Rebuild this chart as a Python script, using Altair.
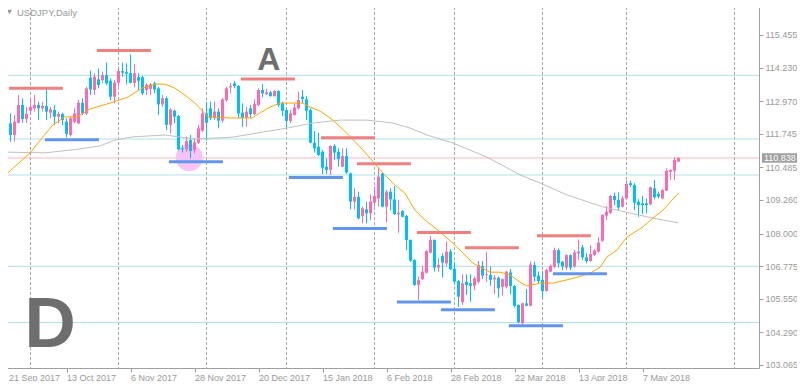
import altair as alt
import pandas as pd

# ---------------- data ----------------
opens = [
112.14, 112.45, 112.14, 111.70, 112.16, 112.83, 112.30, 112.61, 112.70, 112.83,
112.70, 112.79, 112.54, 112.64, 112.39, 112.49, 112.20, 111.70, 112.20, 112.14,
112.91, 112.51, 113.85, 113.39, 113.79, 113.76, 113.95, 113.74, 113.14, 113.66,
114.10, 114.06, 114.02, 113.66, 113.87, 113.87, 113.39, 113.43, 113.64, 113.45,
112.85, 113.08, 112.08, 112.61, 112.41, 111.20, 111.16, 111.51, 111.14, 111.41,
111.86, 112.51, 112.70, 112.33, 112.58, 112.24, 113.01, 113.49, 113.64, 113.54,
112.54, 112.35, 112.70, 112.49, 112.83, 113.39, 113.23, 113.30, 113.16, 113.35,
112.89, 112.64, 112.23, 112.45, 112.70, 113.14, 113.04, 112.64, 111.41, 111.26,
111.07, 110.51, 110.39, 111.29, 111.07, 110.51, 110.91, 110.26, 109.20, 109.38,
108.66, 108.91, 108.76, 109.16, 109.32, 110.26, 109.01, 109.57, 109.28, 108.72,
108.85, 108.66, 107.76, 107.01, 106.07, 106.29, 106.53, 107.28, 107.76, 106.72,
107.16, 106.88, 107.32, 106.68, 106.22, 105.42, 106.19, 106.13, 106.04, 106.19,
106.78, 106.44, 106.44, 106.28, 106.34, 106.00, 106.00, 106.54, 106.03, 105.32,
104.63, 105.38, 105.29, 106.82, 106.42, 106.26, 105.84, 106.57, 106.76, 107.38,
106.94, 106.72, 107.19, 106.76, 107.26, 107.48, 107.11, 106.97, 107.20, 107.32,
107.73, 108.67, 108.78, 109.41, 109.26, 109.01, 109.32, 109.89, 109.82, 109.20,
109.13, 109.13, 109.10, 109.70, 109.49, 109.32, 109.61, 110.32, 110.36, 110.70,
]
highs = [
112.70, 112.58, 112.51, 112.45, 113.20, 113.08, 112.76, 113.08, 113.20, 112.95,
112.95, 113.45, 112.76, 112.83, 112.58, 112.54, 112.33, 112.39, 112.70, 113.01,
113.08, 113.51, 114.12, 114.02, 114.20, 114.08, 114.42, 113.83, 113.76, 114.27,
114.42, 114.39, 114.73, 114.37, 114.02, 113.92, 113.64, 113.64, 113.70, 113.51,
113.20, 113.14, 112.70, 112.66, 112.45, 111.32, 111.64, 111.70, 111.57, 112.08,
112.70, 112.95, 112.95, 112.95, 112.70, 113.08, 113.51, 113.66, 113.73, 113.58,
112.89, 112.76, 112.83, 113.04, 113.45, 113.61, 113.43, 113.36, 113.38, 113.38,
112.95, 112.66, 112.64, 112.89, 113.33, 113.39, 113.16, 112.70, 111.85, 111.79,
111.14, 110.82, 111.31, 111.36, 111.20, 111.20, 111.20, 110.29, 109.70, 109.57,
109.01, 109.20, 109.47, 109.76, 110.45, 110.29, 109.64, 109.70, 109.78, 109.26,
108.88, 108.70, 107.78, 107.03, 106.38, 106.78, 107.38, 107.91, 107.78, 107.07,
107.26, 107.70, 107.41, 106.94, 106.25, 106.47, 106.47, 106.47, 106.38, 106.97,
106.97, 107.32, 106.76, 106.44, 106.38, 106.31, 106.59, 106.67, 106.07, 105.34,
105.40, 105.92, 106.94, 106.94, 106.57, 106.59, 106.67, 106.84, 107.47, 107.44,
106.97, 107.22, 107.22, 107.38, 107.78, 107.57, 107.26, 107.57, 107.41, 107.86,
108.72, 109.03, 109.45, 109.54, 109.54, 109.41, 109.99, 109.99, 109.89, 109.29,
109.41, 109.32, 109.76, 110.01, 109.57, 109.66, 110.45, 110.41, 110.86, 110.86,
]
lows = [
111.95, 111.76, 111.45, 111.45, 112.14, 112.16, 112.16, 112.45, 112.58, 112.26,
112.58, 112.26, 112.33, 112.08, 112.14, 112.08, 111.61, 111.64, 112.14, 112.11,
112.45, 112.45, 113.20, 113.20, 113.45, 113.64, 113.58, 113.01, 112.89, 113.51,
113.89, 113.60, 113.64, 113.49, 113.39, 113.20, 113.20, 113.20, 113.27, 112.45,
112.76, 111.89, 111.76, 112.14, 111.11, 111.04, 111.07, 110.82, 111.01, 111.36,
111.82, 111.49, 112.26, 112.26, 111.95, 112.16, 112.95, 113.27, 113.45, 112.33,
112.01, 112.01, 112.33, 112.45, 112.79, 113.12, 113.20, 113.14, 113.14, 112.76,
112.41, 111.99, 112.14, 112.43, 112.66, 112.89, 112.26, 111.39, 111.04, 110.91,
110.24, 110.24, 110.19, 110.76, 110.51, 110.49, 110.24, 108.91, 108.91, 108.53,
108.38, 108.38, 108.51, 109.01, 109.01, 108.98, 108.41, 108.88, 108.70, 108.03,
108.61, 107.38, 106.94, 106.03, 105.50, 106.25, 106.50, 107.26, 106.57, 106.57,
106.35, 106.76, 106.63, 106.15, 105.25, 105.32, 105.69, 105.44, 105.88, 106.13,
106.29, 106.19, 106.04, 105.73, 105.59, 105.67, 105.94, 105.72, 105.22, 104.63,
104.59, 105.27, 105.27, 106.19, 106.13, 105.59, 105.82, 106.54, 106.69, 106.72,
106.63, 106.63, 106.63, 106.72, 107.01, 107.01, 106.88, 106.94, 107.16, 107.28,
107.69, 108.51, 108.73, 109.07, 108.88, 108.98, 109.29, 109.74, 108.88, 108.63,
108.73, 108.76, 109.07, 109.29, 109.32, 109.29, 109.60, 110.01, 110.01, 110.70,
]
closes = [
112.45, 111.95, 111.70, 112.20, 112.83, 112.30, 112.49, 112.76, 112.83, 112.70,
112.79, 112.58, 112.66, 112.39, 112.49, 112.26, 111.74, 112.33, 112.51, 112.91,
112.51, 113.45, 113.41, 113.89, 113.58, 113.95, 113.64, 113.14, 113.67, 114.10,
114.04, 114.00, 113.66, 114.02, 113.74, 113.27, 113.58, 113.60, 113.41, 112.85,
113.08, 112.08, 112.66, 112.39, 111.16, 111.16, 111.47, 111.10, 111.42, 111.95,
112.51, 112.16, 112.33, 112.58, 112.24, 113.04, 113.45, 113.54, 113.54, 112.51,
112.35, 112.58, 112.48, 112.86, 113.39, 113.26, 113.30, 113.16, 113.35, 112.83,
112.61, 112.23, 112.51, 112.73, 113.01, 113.05, 112.61, 111.41, 111.20, 110.95,
110.47, 110.39, 111.29, 111.04, 110.79, 110.91, 110.29, 109.20, 109.38, 108.57,
108.95, 108.76, 109.20, 109.41, 110.14, 109.01, 109.57, 109.28, 108.73, 108.78,
108.63, 107.76, 106.98, 106.07, 106.25, 106.57, 107.34, 107.76, 106.72, 106.82,
106.91, 107.32, 106.66, 106.19, 105.63, 106.13, 106.07, 106.04, 106.32, 106.82,
106.42, 106.47, 106.26, 106.34, 105.94, 106.29, 106.57, 106.03, 105.29, 104.67,
105.38, 105.29, 106.84, 106.38, 106.22, 105.84, 106.63, 106.79, 107.38, 106.88,
106.76, 107.19, 106.72, 107.29, 107.32, 107.11, 106.97, 107.23, 107.36, 107.66,
108.70, 108.82, 109.41, 109.26, 108.98, 109.32, 109.86, 109.82, 109.16, 109.07,
109.07, 109.07, 109.74, 109.36, 109.39, 109.64, 110.35, 110.39, 110.76, 110.838,
]
bars = list(range(len(opens)))

tick_bars = [0, 16, 32, 48, 64, 80, 96, 112, 128, 144, 160]
tick_labels = ["21 Sep 2017", "13 Oct 2017", "6 Nov 2017", "28 Nov 2017", "20 Dec 2017",
               "15 Jan 2018", "6 Feb 2018", "28 Feb 2018", "22 Mar 2018", "13 Apr 2018", "7 May 2018"]
month_grid_bars = [7, 29, 51, 71, 93, 113, 135, 156, 183]
price_ticks = [103.065, 104.290, 105.550, 106.775, 108.000, 109.260,
               110.485, 111.745, 112.970, 114.230, 115.455]

fast_ma_bars = [-0.1, 6.9, 10.1, 12.6, 15.6, 18.6, 21.9, 26.9, 31.4, 34.9, 38.1, 40.6, 43.1, 45.6,
                48.1, 51.4, 56.9, 62.4, 64.4, 66.9, 69.4, 75.1, 76.9, 79.4, 82.6, 86.1, 89.4, 91.9,
                94.9, 98.1, 100.6, 103.1, 105.6, 109.4, 112.6, 115.1, 117.6, 121.9, 124.4, 126.9,
                129.4, 131.1, 134.4, 137.6, 141.1, 143.9, 147.4, 149.4, 151.1, 153.6, 156.1, 160.1,
                162.6, 165.1, 169.0]
fast_ma_vals = [110.09, 111.03, 111.63, 112.08, 112.38, 112.38, 112.68, 112.90, 113.13, 113.46,
                113.61, 113.61, 113.46, 113.20, 112.90, 112.38, 112.34, 112.34, 112.53, 112.75,
                112.90, 112.90, 112.75, 112.60, 112.26, 111.77, 111.25, 110.83, 110.31, 109.82,
                109.52, 108.88, 108.51, 108.06, 107.64, 107.27, 106.89, 106.55, 106.55, 106.44,
                106.18, 106.03, 106.14, 106.14, 106.26, 106.37, 106.55, 106.74, 107.12, 107.38,
                107.87, 108.25, 108.58, 108.88, 109.52]
slow_ma_bars = [-0.1, 10.6, 18.5, 24.4, 28.1, 32.6, 40.6, 48.1, 57.6, 65.1, 71.1, 77.6, 84.4,
                91.1, 97.6, 101.9, 106.1, 112.6, 121.1, 129.4, 134.4, 141.1, 150.1, 156.9, 162.6, 169.0]
slow_ma_vals = [111.06, 111.03, 111.16, 111.29, 111.51, 111.63, 111.70, 111.55, 111.62, 111.81,
                111.96, 112.15, 112.26, 112.26, 112.15, 111.96, 111.70, 111.40, 110.87, 110.20,
                109.90, 109.45, 109.00, 108.77, 108.58, 108.40]

level_prices = [113.94, 111.55, 110.20, 106.77, 104.66]

seg_start = [1.6, 23.6, 59.6, 10.6, 41.6, 79.6, 88.6, 71.6, 82.6, 103.6, 115.6, 98.6, 109.6, 126.6, 133.6, 137.6]
seg_end = [15.1, 37.1, 73.1, 24.1, 55.1, 93.1, 102.1, 85.1, 96.1, 117.1, 129.1, 112.1, 123.1, 140.1, 147.1, 151.1]
seg_price = [113.46, 114.87, 113.80, 111.52, 110.70, 111.60, 110.62, 110.10, 108.19, 108.04, 107.47,
             105.43, 105.14, 104.54, 107.92, 106.49]
seg_kind = ["R", "R", "R", "S", "S", "R", "R", "S", "S", "R", "R", "S", "S", "S", "R", "S"]

circle_bar = [46.7]
circle_price = [110.85]

ann_text = ["A", "D"]
ann_bar = [66.6, 11.9]
ann_price = [114.14, 103.74]

title_text = "USDJPY,Daily"

# ---------------- chart ----------------
W, H = 757, 366
PINK = "#ff69b4"
BLUE = "#00bfff"
TXT = "#9a9a9a"
AXC = "#a0a0a0"

xs = alt.Scale(domain=[-0.125, 189.125], nice=False, zero=False)
ys = alt.Scale(domain=[102.952, 116.694], nice=False, zero=False)

cd = pd.DataFrame({"bar": bars, "open": opens, "high": highs, "low": lows, "close": closes})
cd["dir"] = ["up" if c >= o else "down" for o, c in zip(opens, closes)]

label_expr = "[" + ",".join("'%s'" % s for s in tick_labels) + "][round(datum.value / 16)]"

x_axis = alt.Axis(values=tick_bars, labelExpr=label_expr, labelAlign="left", labelBaseline="top",
                  labelPadding=1, labelFont="Liberation Sans", labelFontSize=9, labelColor=TXT,
                  tickSize=4, tickColor=AXC, domainColor=AXC, grid=False,
                  labelOffset={"condition": {"test": "datum.value === 0", "value": 6}, "value": 0},
                  labelFlush=False, labelOverlap=False, title=None)
y_axis = alt.Axis(orient="right", values=price_ticks, format=".3f", labelFont="Liberation Sans",
                  labelFontSize=9, labelColor=TXT, labelPadding=2, tickSize=4, tickColor=AXC,
                  domainColor=AXC, grid=False, labelOverlap=False, labelFlush=False, title=None)


def X(field):
    return alt.X(field, scale=xs, axis=x_axis)


def Y(field):
    return alt.Y(field, scale=ys, axis=y_axis)


candle_color = alt.Color("dir:N", scale=alt.Scale(domain=["up", "down"], range=[PINK, BLUE]), legend=None)

grid = alt.Chart(pd.DataFrame({"bar": month_grid_bars})).mark_rule(
    color="#a8a8a8", strokeDash=[3, 2], strokeWidth=1
).encode(x=X("bar:Q"))

levels = alt.Chart(pd.DataFrame({"price": level_prices})).mark_rule(
    color="#b0e0e6", strokeWidth=1
).encode(y=Y("price:Q"))

bid = alt.Chart(pd.DataFrame({"price": [closes[-1]]})).mark_rule(
    color="#ffb6c1", strokeWidth=1
).encode(y=Y("price:Q"))

circle = alt.Chart(pd.DataFrame({"bar": circle_bar, "price": circle_price})).mark_point(
    shape="circle", filled=True, size=729, color="#f6c4f6", opacity=1
).encode(x=X("bar:Q"), y=Y("price:Q"))

wicks = alt.Chart(cd).mark_rule(strokeWidth=1).encode(
    x=X("bar:Q"), y=Y("low:Q"), y2="high:Q", color=candle_color,
)

bodies = alt.Chart(cd).transform_calculate(
    left="datum.bar - 0.375", right="datum.bar + 0.375"
).mark_rect().encode(
    x=X("left:Q"), x2="right:Q", y=Y("open:Q"), y2="close:Q", color=candle_color,
)

slow = alt.Chart(pd.DataFrame({"bar": slow_ma_bars, "v": slow_ma_vals})).mark_line(
    color="#c0c0c0", strokeWidth=1, clip=True
).encode(x=X("bar:Q"), y=Y("v:Q"))

fast = alt.Chart(pd.DataFrame({"bar": fast_ma_bars, "v": fast_ma_vals})).mark_line(
    color="#ffa500", strokeWidth=1, clip=True
).encode(x=X("bar:Q"), y=Y("v:Q"))

segs = pd.DataFrame({"s": seg_start, "e": seg_end, "p": seg_price, "k": seg_kind})
res = alt.Chart(segs[segs.k == "R"]).mark_rule(color="#f08080", strokeWidth=3).encode(
    x=X("s:Q"), x2="e:Q", y=Y("p:Q"))
sup = alt.Chart(segs[segs.k == "S"]).mark_rule(color="#6495ed", strokeWidth=3).encode(
    x=X("s:Q"), x2="e:Q", y=Y("p:Q"))

ann = pd.DataFrame({"t": ann_text, "bar": ann_bar, "price": ann_price})
text_a = alt.Chart(ann[ann.t == "A"]).mark_text(
    font="Liberation Sans", fontWeight="bold", fontSize=32, color="#6e6e6e",
    align="center", baseline="alphabetic"
).encode(x=X("bar:Q"), y=Y("price:Q"), text="t:N")
text_d = alt.Chart(ann[ann.t == "D"]).mark_text(
    font="Liberation Sans", fontWeight="bold", fontSize=71, color="#6e6e6e",
    align="center", baseline="alphabetic"
).encode(x=X("bar:Q"), y=Y("price:Q"), text="t:N")

title = alt.Chart(pd.DataFrame({"t": [title_text]})).mark_text(
    font="Liberation Sans", fontSize=9.5, color=TXT, align="left", baseline="alphabetic"
).encode(x=alt.value(15), y=alt.value(14), text="t:N")
tri = alt.Chart(pd.DataFrame({"t": [title_text]})).mark_point(
    shape="triangle-down", filled=True, size=26, color=TXT, opacity=1
).encode(x=alt.value(7.5), y=alt.value(10))

last = pd.DataFrame({"close": [closes[-1]]})
box = alt.Chart(last).transform_calculate(
    top="datum.close + 0.18", bot="datum.close - 0.18"
).mark_rect(color="#a0a0a0").encode(
    x=alt.value(W + 3), x2=alt.value(W + 40),
    y=Y("top:Q"), y2="bot:Q")
box_text = alt.Chart(last).mark_text(
    font="Liberation Sans", fontSize=9, color="white", align="left", baseline="middle"
).encode(x=alt.value(W + 5), y=Y("close:Q"),
         text=alt.Text("close:Q", format=".3f"))

chart = alt.layer(
    grid, levels, bid, circle, wicks, bodies, slow, fast, res, sup,
    text_a, text_d, title, tri, box, box_text
).properties(
    width=W, height=H,
    padding={"left": -6, "top": -6, "right": 38, "bottom": 13},
    autosize="none",
    background="white",
).configure_view(stroke=None)

chart.save("out.html", embed_options={"renderer": "svg", "actions": False})
